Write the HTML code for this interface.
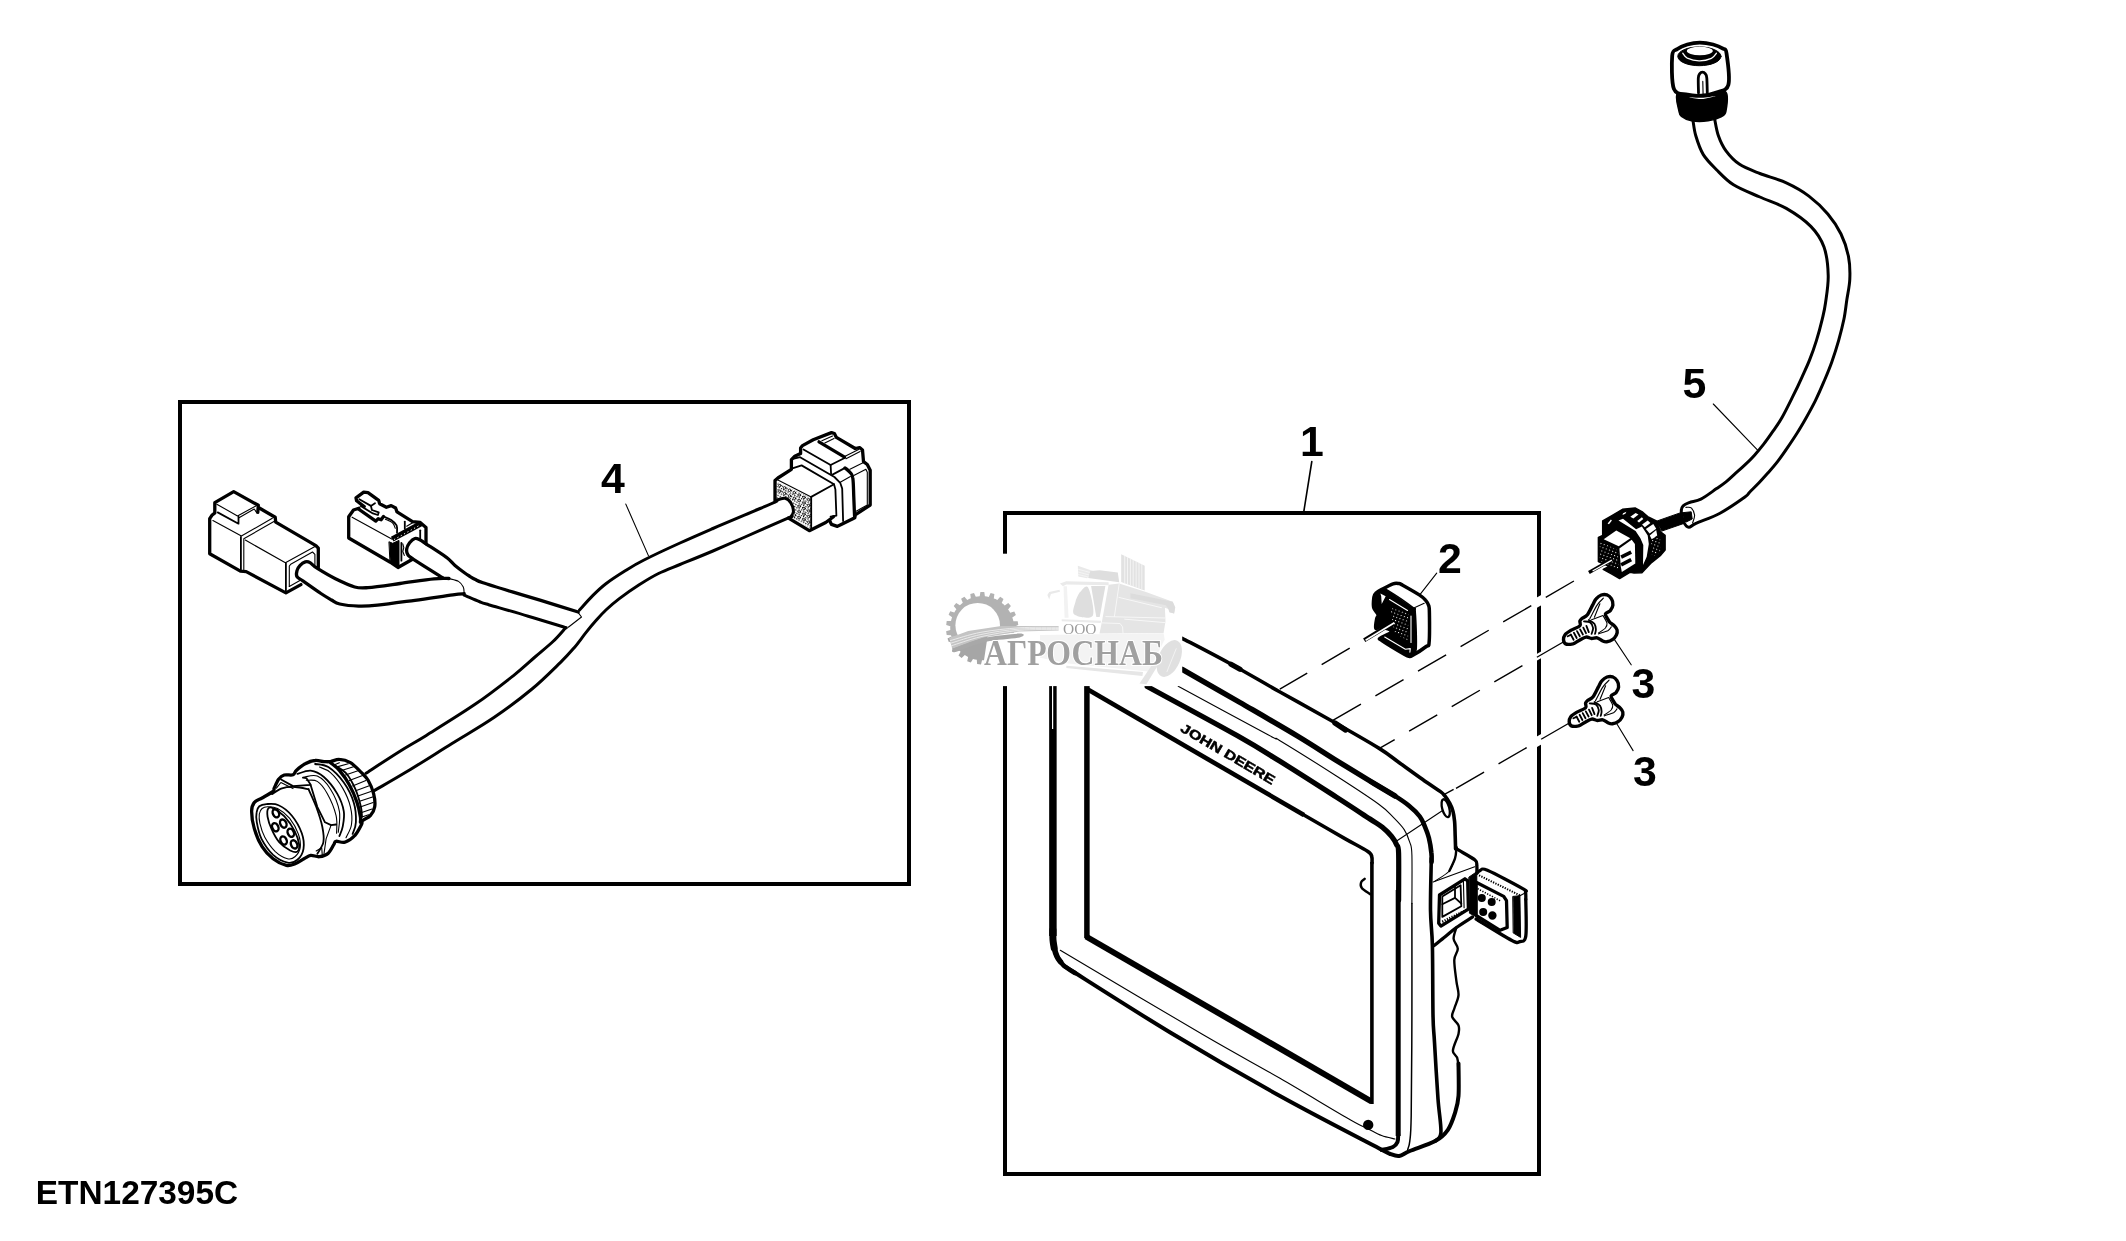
<!DOCTYPE html>
<html><head><meta charset="utf-8">
<style>
html,body{margin:0;padding:0;background:#fff}
body{width:2126px;height:1241px;overflow:hidden;font-family:"Liberation Sans",sans-serif}
svg{display:block}
path,line,ellipse,circle,polyline,rect{fill:none;stroke:#000;vector-effect:non-scaling-stroke;stroke-linecap:round;stroke-linejoin:round;stroke-width:2.4}
.k{stroke-width:3.3}
.m{stroke-width:1.8}
.t{stroke-width:1.1}
.w{fill:#fff}
.b{fill:#000}
.ws{fill:#fff;stroke:none}
text{font-family:"Liberation Sans",sans-serif;font-weight:bold;fill:#000}
</style></head><body>
<svg width="2126" height="1241" viewBox="0 0 2126 1241" style="filter:grayscale(1)">
<rect class="ws" x="0" y="0" width="2126" height="1241"/>
<!-- 10_boxes.svg -->
<rect x="180" y="402" width="729" height="482" style="stroke-width:4;stroke-linejoin:miter"/>
<rect x="1005" y="513" width="534" height="661" style="stroke-width:4;stroke-linejoin:miter"/>

<!-- 20_cables4.svg -->
<!-- main cable, src coords -->
<g style="stroke-width:3">
<path style="stroke-width:3" d="M565.0,628.5 C563.0,630.7 558.0,636.8 553.0,641.5 C548.0,646.2 541.6,651.3 535.0,657.0 C528.4,662.7 523.1,667.9 513.2,675.8 C503.3,683.6 489.9,694.2 475.4,704.1 C460.9,714.0 438.9,727.5 426.3,735.4 C413.7,743.2 410.1,744.9 400.0,751.2 C389.9,757.5 371.7,769.5 366.0,773.2"/>
<path style="stroke-width:3" d="M579.5,610.0 C581.7,607.6 588.3,600.0 592.7,595.6 C597.1,591.2 600.4,587.9 605.9,583.7 C611.4,579.5 619.2,574.5 625.6,570.5 C632.0,566.5 634.9,564.6 644.0,560.0 C653.1,555.4 668.5,548.2 680.0,543.0 C691.5,537.8 702.1,533.2 712.9,528.5 C723.7,523.8 734.7,519.2 745.0,514.8 C755.3,510.4 769.7,504.6 775.0,502.2 C780.2,499.8 774.7,500.9 776.4,500.2 C778.1,499.6 782.7,497.8 785.1,498.3 C787.6,498.8 789.6,500.9 790.9,503.1 C792.3,505.4 793.5,509.4 793.4,511.8 C793.2,514.3 790.8,516.7 790.0,517.7 C789.2,518.6 796.0,514.6 788.5,517.8 C781.0,521.1 757.6,531.5 745.0,537.0 C732.4,542.5 723.7,546.4 712.9,551.0 C702.1,555.6 689.1,560.8 680.0,564.5 C670.9,568.2 665.4,570.1 658.5,573.5 C651.6,576.9 645.4,580.8 638.8,585.0 C632.2,589.2 624.5,594.7 619.0,598.9 C613.5,603.1 609.7,606.4 605.9,610.0 C602.1,613.6 599.3,616.9 596.0,620.6 C592.7,624.3 589.8,627.8 586.1,632.4 C582.4,637.0 578.3,643.0 574.0,648.0 C569.7,653.0 567.3,655.8 560.3,662.6 C553.3,669.4 543.0,679.9 532.0,689.0 C521.0,698.1 507.6,708.2 494.3,717.3 C481.0,726.4 466.5,734.5 452.0,743.5 C437.5,752.5 420.5,763.4 407.4,771.3 C394.3,779.2 379.1,787.8 373.5,791.1"/>
<!-- branch cables -->
<path class="t" d="M449.1,578.6 C450.7,579.1 456.2,580.0 458.5,581.4 C460.9,582.8 462.3,585.0 463.3,587.1 C464.2,589.1 464.0,592.6 464.2,593.7"/>
<path style="stroke-width:3" d="M464.1,595.1 C466.6,596.1 475.1,599.9 479.2,601.5 C483.3,603.1 480.5,602.2 488.6,604.7 C496.8,607.1 515.3,612.3 528.2,616.2 C541.2,620.0 560.0,625.9 566.3,627.8"/>
<path class="t" d="M578.2,612.7 L581.5,617.0 L568.3,627.2"/>
</g>

<!-- 30_connL.svg -->
<!-- left DT connector: zoom G1 origin 195,480 s 10.343 -->
<g>
<path class="k" d="M300.9,584.6 L285.9,592.9 L246.2,571.6 L240.4,571.1 L209.7,553.7 L209.7,518.7 L211.9,515.3 L214.8,512.9 L214.8,502.7 L233.7,491.6 L258.3,505.3 L257.8,512.4"/>
<path class="k" d="M259.3,508.0 L275.2,517.2 L275.7,522.1 L315.9,545.6 L318.3,548.2 L318.3,567.5"/>
<path class="m" d="M238.5,516.7 L238.5,523.7 L217.7,512.4"/>
<path class="t" d="M216.8,504.2 L237.5,516.0 L255.9,505.9"/>
<path class="t" d="M239.0,517.7 L254.2,509.0 L256.9,512.9"/>
<path class="t" d="M212.9,520.6 L241.4,536.1 L272.3,518.2"/>
<path class="t" d="M243.8,569.4 L243.8,538.7 L274.8,521.1"/>
<path class="m" d="M240.9,537.0 L240.9,570.7"/>
<path class="t" d="M245.3,540.1 L285.4,562.7 L315.9,545.9"/>
<path class="m" d="M285.9,563.1 L285.9,592.6"/>
<path class="t" d="M289.3,586.4 L289.3,566.0 L290.7,564.3 L312.5,552.0 L314.9,554.4 L314.9,565.1"/>
<path class="t" d="M289.3,586.4 L299.9,580.6"/>
<path class="k" d="M464.2,593.7 C462.3,593.9 461.1,593.7 452.9,594.8 C444.7,595.9 427.6,598.6 415.0,600.3 C402.4,602.0 386.9,604.2 377.5,605.2 C368.1,606.2 364.9,606.3 358.6,606.1 C352.3,605.9 344.2,605.0 339.7,604.0 C335.2,603.0 334.6,601.8 331.5,600.0 C328.4,598.2 325.7,596.7 320.9,593.5 C316.1,590.3 306.9,583.7 302.9,580.9 C298.9,578.1 298.0,578.4 297.0,576.7 C296.0,575.0 296.5,572.5 297.0,570.6 C297.5,568.7 298.7,566.9 300.1,565.4 C301.5,563.9 303.7,562.4 305.3,561.9 C306.9,561.4 308.1,561.5 310.0,562.6 C311.9,563.7 312.7,565.5 317.0,568.2 C321.3,570.9 329.6,575.9 335.9,579.0 C342.2,582.1 349.3,585.6 354.7,587.0 C360.1,588.4 360.4,588.2 368.0,587.6 C375.6,587.0 389.0,585.0 400.0,583.5 C411.0,582.0 425.8,579.6 434.0,578.8 C442.2,578.0 446.5,578.5 449.0,578.5"/>
</g>

<!-- 31_connM.svg -->
<!-- middle connector: zoom G2 origin 340,480 s 10.343 -->
<g>
<path class="k" d="M426.0,543.8 L426.0,527.4 L420.2,522.5 L412.5,521.6 L397.0,511.9 L395.6,508.0 L391.2,505.6 L386.4,507.3 L379.6,503.7 L378.7,500.3 L368.0,492.6 L363.7,492.1 L356.0,497.9 L356.6,500.8 L364.2,506.6"/>
<path class="k" d="M358.9,508.2 L353.5,510.0 L348.7,516.7 L348.7,538.0 L390.3,562.2 L398.0,567.5 L412.5,559.3"/>
<path class="b" style="stroke-width:1" d="M389.3,541.9 L392.7,543.3 L399.0,540.4 L399.0,565.6 L398.0,567.5 L390.3,562.7Z"/>
<path style="stroke-width:5.5;stroke-linecap:butt" d="M392.2,539.2 L421.2,523.5"/>
<path style="stroke:#fff;stroke-width:1;stroke-dasharray:1.2 2.6;stroke-linecap:butt" d="M394.1,539.5 L420.2,525.0"/>
<path class="t" d="M352.1,517.2 L392.2,539.2"/>
<path class="m" d="M359.3,499.3 L370.9,505.9 L375.0,503.2"/>
<path class="m" d="M370.9,505.9 L371.9,510.0 L378.7,512.4 L377.9,515.0 L372.9,513.4 L360.8,506.1"/>
<path class="k" d="M358.4,509.0 L375.8,521.1 L378.2,518.7 L381.1,519.8 L383.5,516.5"/>
<path class="m" d="M383.5,516.5 C384.8,517.1 389.1,518.6 391.2,520.1 C393.4,521.6 395.6,523.3 396.6,525.4 C397.5,527.5 397.0,531.5 397.0,532.7"/>
<path class="t" d="M385.4,519.2 C386.6,519.8 391.0,521.5 392.7,523.0 C394.3,524.6 394.9,527.5 395.3,528.3"/>
<path class="m" d="M404.8,521.6 L404.8,528.8"/>
<path class="t" d="M406.7,526.2 L413.0,522.5"/>
<path class="m" d="M420.2,530.3 L420.2,539.5"/>
<path class="m" d="M401.4,542.8 L401.4,560.7"/>
<path class="t" d="M402.8,543.8 L403.8,547.7 L402.8,551.5 L404.3,555.4"/>
<path class="k" d="M442.5,577.7 C437.7,574.6 419.3,563.1 413.5,559.3 C407.7,555.4 408.8,556.1 407.7,554.4 C406.6,552.8 406.4,551.1 406.7,549.1 C407.0,547.2 408.2,544.6 409.6,542.8 C411.0,541.1 413.2,539.0 414.9,538.5 C416.7,538.0 418.4,539.1 420.2,539.9 C422.1,540.8 421.7,540.9 426.0,543.8 C430.4,546.7 441.5,553.7 446.4,557.3 C451.2,561.0 452.0,563.0 455.0,565.5 C458.0,568.0 461.6,570.7 464.1,572.5 C466.6,574.3 467.9,575.1 469.8,576.3 C471.7,577.5 473.2,578.5 475.4,579.6 C477.6,580.7 476.7,580.7 483.0,582.8 C489.3,584.9 503.7,589.3 513.2,592.2 C522.7,595.1 529.2,596.9 540.0,600.2 C550.8,603.5 571.8,610.0 578.2,612.0"/>
</g>

<!-- 32_connR.svg -->
<!-- right connector: zoom G3 origin 760,420 s 10.343 -->
<defs>
<pattern id="dots" width="2.5" height="2.5" patternUnits="userSpaceOnUse" patternTransform="rotate(27)"><rect x="0" y="0" width="1.2" height="1.2" style="fill:#000;stroke:none"/></pattern>
<pattern id="dots2" width="2" height="2" patternUnits="userSpaceOnUse"><rect x="0" y="0" width="1" height="1" style="fill:#000;stroke:none"/><rect x="1" y="1" width="1" height="1" style="fill:#000;stroke:none"/></pattern>
</defs>
<g>
<path style="fill:url(#dots);stroke:none" d="M776.4,481.4 L811.2,498.3 L811.2,528.8 L790.5,517.2 L793.4,511.8 L790.9,503.1 L785.1,498.3 L776.4,500.2Z"/>
<!--pins--><circle class="w" style="stroke-width:0.8" cx="779.8" cy="485.6" r="1.25"/><circle class="w" style="stroke-width:0.8" cx="779.8" cy="491.2" r="1.25"/><circle class="w" style="stroke-width:0.8" cx="784.7" cy="487.9" r="1.25"/><circle class="w" style="stroke-width:0.8" cx="784.7" cy="493.5" r="1.25"/><circle class="w" style="stroke-width:0.8" cx="789.5" cy="490.3" r="1.25"/><circle class="w" style="stroke-width:0.8" cx="789.5" cy="495.9" r="1.25"/><circle class="w" style="stroke-width:0.8" cx="794.3" cy="492.7" r="1.25"/><circle class="w" style="stroke-width:0.8" cx="794.3" cy="498.3" r="1.25"/><circle class="w" style="stroke-width:0.8" cx="794.3" cy="515.1" r="1.25"/><circle class="w" style="stroke-width:0.8" cx="799.2" cy="495.0" r="1.25"/><circle class="w" style="stroke-width:0.8" cx="799.2" cy="500.6" r="1.25"/><circle class="w" style="stroke-width:0.8" cx="799.2" cy="506.2" r="1.25"/><circle class="w" style="stroke-width:0.8" cx="799.2" cy="511.8" r="1.25"/><circle class="w" style="stroke-width:0.8" cx="799.2" cy="517.5" r="1.25"/><circle class="w" style="stroke-width:0.8" cx="804.0" cy="497.4" r="1.25"/><circle class="w" style="stroke-width:0.8" cx="804.0" cy="503.0" r="1.25"/><circle class="w" style="stroke-width:0.8" cx="804.0" cy="508.6" r="1.25"/><circle class="w" style="stroke-width:0.8" cx="804.0" cy="514.2" r="1.25"/><circle class="w" style="stroke-width:0.8" cx="804.0" cy="519.8" r="1.25"/><circle class="w" style="stroke-width:0.8" cx="808.8" cy="499.8" r="1.25"/><circle class="w" style="stroke-width:0.8" cx="808.8" cy="505.4" r="1.25"/><circle class="w" style="stroke-width:0.8" cx="808.8" cy="511.0" r="1.25"/><circle class="w" style="stroke-width:0.8" cx="808.8" cy="516.6" r="1.25"/><circle class="w" style="stroke-width:0.8" cx="808.8" cy="522.2" r="1.25"/><!--/pins-->
<path class="k" d="M775.0,500.7 L775.0,480.4 L777.9,478.0 L791.4,469.3 L791.4,459.6 L794.8,456.3 L800.6,453.4 L800.6,448.0 L802.5,445.6 L813.2,439.8 L831.5,432.6 L834.4,433.5 L836.4,437.4 L855.2,448.5 L859.6,447.6 L862.5,450.0 L863.5,461.6 L867.3,464.5 L870.2,470.3 L870.2,505.1 L855.2,514.8 L854.8,517.7 L840.2,524.9 L837.3,526.4 L831.5,524.4 L829.6,520.6"/>
<path class="k" d="M788.5,518.1 L809.3,530.7 L825.7,522.5 L833.5,516.7"/>
<path class="k" d="M819.0,441.8 L844.6,457.2"/>
<path class="t" d="M821.9,440.8 L832.5,436.0"/>
<path class="t" d="M824.8,443.0 L834.0,438.4"/>
<path class="t" d="M845.1,456.3 L858.6,449.5"/>
<path class="t" d="M846.0,458.7 L860.1,451.4"/>
<path class="m" d="M803.5,449.5 L830.6,465.0 L844.1,458.2"/>
<path class="m" d="M830.6,465.0 L831.1,474.1"/>
<path class="m" d="M793.8,458.7 L800.1,457.2 L834.4,477.0 L840.2,482.8 L842.2,488.6 L843.1,521.0"/>
<path class="m" d="M792.4,468.3 L801.6,465.4 L834.0,484.3 L835.4,489.6 L836.4,515.7 L830.6,516.7"/>
<path class="m" d="M834.0,484.3 L811.2,496.9"/>
<path class="t" d="M777.9,479.9 L811.2,496.9"/>
<path class="m" d="M811.2,496.9 L811.2,529.7"/>
<path class="m" d="M832.5,474.6 L845.1,467.9"/>
<path class="k" d="M845.1,467.9 C845.9,468.6 848.6,470.5 849.9,472.2 C851.2,473.9 852.2,473.8 852.8,478.0 C853.5,482.2 853.5,490.9 853.8,497.3 C854.1,503.8 854.4,513.5 854.6,516.7"/>
<path class="t" d="M839.8,482.4 L850.4,476.6"/>
<path class="t" d="M849.9,469.3 L863.5,462.5"/>
<path class="t" d="M853.8,475.6 L865.9,469.3 L867.3,472.2 L867.3,505.1 L855.7,511.4"/>
</g>

<!-- 33_connRound.svg -->
<!-- round connector: zoom G4 origin 240,745 s 9.056 -->
<g>
<path class="k" d="M251.6,811.3 C251.6,806.8 252.6,804.6 254.4,802.4 C256.1,800.2 259.0,799.8 262.1,798.0 C265.2,796.2 271.1,793.0 273.1,791.4 C275.2,789.7 273.3,790.1 274.2,788.1 C275.2,786.0 277.0,781.4 278.6,779.2 C280.3,777.1 281.8,775.8 284.2,775.0 C286.6,774.3 291.0,775.6 293.0,774.8 C295.0,774.0 294.3,772.2 296.3,770.4 C298.3,768.6 302.0,765.4 305.2,763.8 C308.3,762.1 312.0,760.8 315.1,760.5 C318.2,760.1 321.3,761.4 323.9,761.6 C326.5,761.7 328.0,761.9 330.5,761.6 C333.1,761.2 336.1,759.2 339.4,759.4 C342.7,759.5 346.7,760.5 350.4,762.7 C354.1,764.9 358.5,769.7 361.5,772.6 C364.4,775.6 366.1,776.8 368.1,780.3 C370.1,783.8 372.5,789.2 373.6,793.6 C374.7,798.0 375.3,803.2 374.7,806.8 C374.2,810.5 372.3,813.4 370.3,815.7 C368.3,818.0 364.0,819.2 362.6,820.6 C361.1,822.1 362.8,822.0 361.5,824.5 C360.2,827.0 357.6,832.6 354.8,835.5 C352.1,838.5 348.0,841.2 344.9,842.2 C341.8,843.1 337.9,840.9 336.1,841.3 C334.2,841.7 335.1,842.4 333.9,844.4 C332.6,846.4 330.7,851.2 328.3,853.2 C325.9,855.3 322.4,856.4 319.5,856.7 C316.6,857.1 313.2,855.1 310.7,855.4 C308.1,855.8 306.6,857.4 304.0,858.7 C301.5,860.1 298.2,862.6 295.2,863.7 C292.3,864.8 290.1,866.2 286.4,865.4 C282.7,864.5 277.2,861.9 273.1,858.7 C269.1,855.6 265.2,851.6 262.1,846.6 C259.0,841.6 256.1,834.8 254.4,828.9 C252.6,823.0 251.6,815.7 251.6,811.3Z"/>
<path class="m" d="M256.6,812.4 C257.0,809.7 257.7,807.7 259.3,806.3 C261.0,804.9 263.3,804.3 266.5,804.1 C269.7,803.9 274.4,803.2 278.6,805.2 C282.9,807.1 288.0,811.0 291.9,815.7 C295.8,820.4 299.9,827.8 301.8,833.3 C303.8,838.9 304.2,844.4 303.5,848.8 C302.8,853.2 300.1,857.5 297.4,859.8 C294.8,862.1 291.5,863.4 287.5,862.6 C283.4,861.8 277.5,858.8 273.1,854.9 C268.8,850.9 264.3,844.3 261.5,838.9 C258.8,833.4 257.6,826.7 256.8,822.3 C256.0,817.9 256.1,815.0 256.6,812.4Z"/>
<path class="t" d="M259.3,814.0 C259.7,811.5 260.7,809.7 262.1,808.5 C263.5,807.3 265.0,806.8 267.6,806.8 C270.2,806.8 273.9,806.6 277.5,808.5 C281.2,810.4 286.2,814.1 289.7,818.4 C293.2,822.8 296.8,829.6 298.5,834.4 C300.3,839.3 300.7,844.0 300.2,847.7 C299.6,851.4 297.3,854.7 295.2,856.5 C293.1,858.4 290.8,859.6 287.5,858.7 C284.2,857.9 279.1,855.1 275.3,851.6 C271.6,848.0 267.4,841.9 264.8,837.2 C262.3,832.5 260.8,827.3 259.9,823.4 C259.0,819.5 259.0,816.5 259.3,814.0Z"/>
<path class="m" d="M268.2,808.5 C269.1,807.1 270.5,806.9 273.1,808.2 C275.8,809.5 280.6,812.4 284.2,816.2 C287.8,820.1 292.2,826.4 294.7,831.1 C297.1,835.8 298.6,841.0 299.1,844.4 C299.5,847.8 298.9,850.5 297.4,851.6 C295.9,852.6 293.3,852.0 290.2,850.5 C287.2,848.9 282.3,845.8 279.2,842.2 C276.1,838.6 273.4,833.2 271.5,828.9 C269.5,824.7 268.2,820.2 267.6,816.8 C267.1,813.4 267.2,809.9 268.2,808.5Z"/>
<g class="m">
<ellipse transform="translate(275.9,813.2) rotate(-25)" rx="3" ry="4.3"/>
<ellipse transform="translate(283.3,823.6) rotate(-25)" rx="3" ry="4.3"/>
<ellipse transform="translate(275.3,827.3) rotate(-25)" rx="3" ry="4.3"/>
<ellipse transform="translate(290.8,832.8) rotate(-25)" rx="3" ry="4.3"/>
<ellipse transform="translate(283.6,840.5) rotate(-25)" rx="3" ry="4.3"/>
<ellipse transform="translate(294.1,844.4) rotate(-25)" rx="3" ry="4.3"/>
</g>
<path class="m" d="M272.0,794.1 C273.7,793.2 278.1,789.5 282.0,788.3 C285.8,787.1 290.8,786.8 295.2,787.0 C299.6,787.1 306.3,788.8 308.5,789.2"/>
<path class="m" d="M281.1,779.5 L293.0,786.1 L310.7,784.8 L306.3,778.1 L302.9,777.6"/>
<path class="t" d="M276.4,788.1 L280.9,782.5 L293.0,788.6"/>
<path class="m" d="M308.5,789.2 C309.8,792.1 313.9,800.6 316.2,806.8 C318.5,813.1 321.1,820.8 322.3,826.7 C323.5,832.6 324.2,837.7 323.4,842.2 C322.5,846.7 318.3,851.8 317.3,853.8"/>
<path class="m" d="M310.7,785.3 L317.3,806.8 L325.0,822.3 L331.1,825.1 L336.1,824.5"/>
<path class="t" d="M331.1,825.1 L326.1,838.9 L323.9,854.3"/>
<path class="t" d="M316.2,851.0 L321.7,847.7 L322.3,855.4"/>
<path class="m" d="M297.4,773.9 C299.6,773.4 306.3,770.1 310.7,770.6 C315.1,771.1 319.5,773.2 323.9,777.0 C328.3,780.9 333.9,787.9 337.2,793.6 C340.5,799.3 342.9,805.7 343.8,811.3 C344.7,816.8 343.4,822.6 342.7,826.7 C342.0,830.9 339.9,834.5 339.4,836.1"/>
<path class="t" d="M303.5,777.2 C305.8,777.1 312.8,774.2 317.3,776.1 C321.8,778.1 326.9,783.3 330.5,789.2 C334.2,795.0 338.1,804.1 339.4,811.3 C340.7,818.4 338.5,828.7 338.3,832.2"/>
<path class="t" d="M306.3,780.3 C308.1,780.5 313.8,779.2 317.3,781.4 C320.8,783.6 324.1,787.9 327.2,793.6 C330.4,799.3 334.5,809.0 336.1,815.7 C337.6,822.3 336.5,830.4 336.6,833.3"/>
<path class="m" d="M315.1,764.0 C317.3,764.5 323.6,764.0 328.3,767.1 C333.1,770.2 339.6,776.7 343.8,782.5 C348.0,788.4 351.7,795.8 353.7,802.4 C355.8,809.0 356.1,817.1 355.9,822.3 C355.8,827.5 353.2,832.0 352.6,833.9"/>
<path class="t" d="M319.5,767.1 C321.3,768.0 326.7,769.1 330.5,772.6 C334.4,776.1 339.4,782.4 342.7,788.1 C346.0,793.8 349.0,800.8 350.4,806.8 C351.9,812.9 352.3,819.4 351.5,824.5 C350.8,829.7 346.9,835.5 346.0,837.8"/>
<path class="k" d="M330.5,762.7 C332.0,764.0 336.3,766.7 339.4,770.4 C342.5,774.1 346.4,779.4 349.3,784.8 C352.3,790.1 355.2,797.1 357.0,802.4 C358.9,807.8 359.8,813.5 360.4,816.8 C360.9,820.1 360.4,821.4 360.4,822.3"/>
<path class="m" d="M333.9,764.9 C335.9,766.3 342.4,769.1 346.0,773.2 C349.6,777.2 352.9,783.6 355.4,789.2 C357.9,794.8 359.8,802.2 360.9,806.8 C362.0,811.4 361.8,815.1 362.0,816.8"/>
<path class="t" d="M332.8,765.4 L339.4,762.7"/>
<path class="t" d="M336.1,767.1 L348.2,763.8"/>
<path class="t" d="M341.6,770.6 L354.3,766.5"/>
<path class="t" d="M345.5,775.0 L358.7,770.6"/>
<path class="t" d="M349.3,780.6 L362.6,775.4"/>
<path class="t" d="M352.6,785.9 L365.9,780.6"/>
<path class="t" d="M355.7,790.8 L368.6,785.9"/>
<path class="t" d="M357.9,796.0 L370.9,791.4"/>
<path class="t" d="M359.6,801.3 L372.5,796.9"/>
<path class="t" d="M360.9,806.8 L373.1,802.6"/>
<path class="t" d="M361.7,812.4 L372.0,809.0"/>
<path class="t" d="M361.9,817.0 L368.6,814.8"/>
</g>

<!-- 40_monitor.svg -->
<!-- MONITOR (src coords) -->
<g>
<!-- left outer thick -->
<path style="stroke-width:7.5;stroke-linecap:butt" d="M1052.9,686 L1052.9,936"/>
<path style="stroke:#fff;stroke-width:1.2;stroke-linecap:butt" d="M1052.6,686 L1052.6,729"/>
<path style="stroke-width:7" d="M1052.9,930.0 C1052.9,931.7 1052.8,937.0 1053.0,940.0 C1053.2,943.0 1054.0,946.7 1054.2,948.0"/>
<path style="stroke-width:5.6" d="M1053.0,940.0 C1053.2,941.3 1053.5,945.2 1054.2,948.0 C1054.9,950.8 1056.0,954.2 1057.0,956.5 C1058.0,958.8 1059.9,960.9 1060.5,961.8"/>
<path style="stroke-width:4.6" d="M1057.0,956.5 C1057.6,957.4 1059.2,960.2 1060.5,961.8 C1061.8,963.4 1062.1,964.3 1064.5,966.2 C1066.9,968.1 1073.2,971.9 1075.0,973.0"/>
<path style="stroke-width:4" d="M1063.9,965.8 C1081.8,977.0 1135.1,1011.3 1171.1,1033.0 C1207.1,1054.7 1245.4,1076.8 1280.0,1096.0 C1314.6,1115.2 1360.5,1138.6 1378.8,1148.2 C1397.1,1157.8 1386.7,1152.5 1390.1,1153.8 C1393.5,1155.1 1395.9,1156.4 1399.2,1155.9 C1402.5,1155.4 1403.8,1153.5 1409.8,1151.0 C1415.8,1148.5 1428.8,1144.6 1435.2,1141.1 C1441.6,1137.6 1444.6,1134.5 1447.9,1129.8 C1451.2,1125.1 1453.2,1118.5 1455.0,1112.9 C1456.8,1107.3 1457.9,1104.2 1458.5,1096.0 C1459.1,1087.8 1458.5,1068.9 1458.5,1063.5"/>
<!-- screen frame -->
<path style="stroke-width:5.5;stroke-linecap:butt;stroke-linejoin:miter" d="M1086.9,938 L1086.9,686"/>
<path style="stroke-width:6;stroke-linecap:butt" d="M1086,936.5 L1371.5,1101.5"/>
<path style="stroke-width:4.6;stroke-linecap:butt" d="M1086.6,688.7 L1303.9,815"/>
<path style="stroke-width:3.6" d="M1303.9,815.0 C1310.7,818.9 1334.3,832.6 1344.9,838.6 C1355.5,844.6 1363.0,848.3 1367.5,851.3 C1372.0,854.3 1371.0,854.5 1371.7,856.5 C1372.5,858.5 1372.0,861.9 1372.0,863.0"/>
<path style="stroke-width:3.6;stroke-linecap:butt" d="M1371.9,862 L1371.9,1104"/>
<path style="stroke-width:2.4" d="M1364.7,878.8 C1364.1,879.4 1361.6,880.8 1361.1,882.3 C1360.6,883.8 1360.3,886.0 1361.8,888.0 C1363.3,890.0 1368.9,893.2 1370.3,894.3"/>
<!-- line D -->
<path style="stroke-width:5.2" d="M1147.2,686.5 C1162.2,694.7 1215.4,723.3 1237.5,735.8 C1259.6,748.3 1263.5,751.1 1280.0,761.3 C1296.5,771.5 1321.4,787.5 1336.4,797.1 C1351.4,806.7 1362.3,814.0 1370.0,819.0 C1377.7,824.0 1378.8,824.4 1382.4,827.3 C1386.0,830.2 1389.2,833.5 1391.6,836.4 C1394.0,839.3 1395.4,841.9 1396.6,844.7 C1397.8,847.5 1398.3,843.8 1398.6,853.0 C1398.9,862.2 1398.6,892.2 1398.6,900.0"/>
<path style="stroke-width:5;stroke-linecap:butt" d="M1398.2,890 L1398.2,1136"/>
<path style="stroke-width:4" d="M1398.2,1134.0 C1398.1,1135.3 1398.4,1139.8 1397.5,1142.0 C1396.6,1144.2 1395.6,1145.7 1392.9,1147.0 C1390.2,1148.3 1383.5,1149.5 1381.6,1150.0"/>
<!-- line C thin -->
<path class="t" d="M1178.2,686.3 C1193.2,694.4 1251.5,725.9 1268.5,735.0 C1285.5,744.1 1268.7,733.9 1280.0,740.7 C1291.3,747.5 1319.9,765.4 1336.4,776.0 C1352.9,786.6 1369.4,797.4 1378.8,804.2 C1388.2,811.0 1388.7,812.7 1392.9,816.9 C1397.1,821.1 1401.4,825.4 1404.2,829.6 C1407.0,833.8 1408.5,838.1 1409.8,842.3 C1411.1,846.5 1411.6,844.8 1411.9,855.0 C1412.2,865.2 1411.9,895.4 1411.9,903.5"/>
<path style="stroke-width:1.5" d="M1411.9,903.5 C1411.9,922.1 1412.0,979.6 1411.9,1015.0 C1411.8,1050.4 1411.6,1094.7 1411.2,1115.7 C1410.8,1136.7 1410.4,1135.4 1409.8,1141.1 C1409.2,1146.8 1408.0,1148.2 1407.7,1149.6"/>
<!-- line B -->
<path style="stroke-width:5.4" d="M1182.2,669.4 C1191.8,674.9 1220.7,691.3 1240.0,702.5 C1259.3,713.7 1282.1,726.8 1298.2,736.5 C1314.3,746.2 1324.4,753.1 1336.4,760.5 C1348.4,767.9 1360.2,775.1 1370.0,781.0 C1379.8,786.9 1390.8,793.4 1394.9,795.9"/>
<path style="stroke-width:4.6" d="M1370.0,781.0 C1374.2,783.5 1388.4,791.8 1394.9,795.9 C1401.4,800.0 1404.8,802.3 1409.0,805.7 C1413.2,809.1 1417.2,813.0 1419.8,816.5 C1422.4,820.0 1423.3,822.8 1424.8,826.4 C1426.3,830.0 1427.8,833.6 1428.9,838.0 C1430.0,842.4 1431.0,849.0 1431.4,853.0 C1431.9,857.0 1431.6,860.5 1431.6,862.0"/>
<path style="stroke-width:3.6" d="M1431.3,858.0 C1431.2,866.8 1430.3,896.0 1430.5,910.6 C1430.7,925.2 1432.0,928.4 1432.4,945.8 C1432.8,963.2 1432.7,998.9 1433.0,1015.0 C1433.3,1031.1 1433.7,1028.3 1434.5,1042.3 C1435.3,1056.3 1436.9,1083.8 1438.0,1098.8 C1439.1,1113.8 1441.4,1125.5 1440.9,1132.6 C1440.4,1139.6 1436.2,1139.7 1435.2,1141.1"/>
<!-- line A -->
<path style="stroke-width:3.6" d="M1182.2,638.3 C1190.0,642.4 1212.7,654.0 1229.0,663.0 C1245.3,672.0 1262.9,682.4 1280.0,692.0 C1297.1,701.6 1315.0,711.4 1331.5,720.7 C1348.0,730.1 1367.4,741.0 1378.8,748.1 C1390.2,755.2 1391.8,757.3 1400.0,763.2 C1408.2,769.1 1421.3,778.6 1428.1,783.3 C1434.8,788.0 1437.7,789.5 1440.5,791.6 C1443.3,793.7 1443.2,793.8 1444.7,795.7 C1446.2,797.6 1448.3,800.6 1449.7,803.2 C1451.1,805.8 1452.2,808.5 1453.0,811.5 C1453.8,814.5 1454.2,817.4 1454.6,821.5 C1455.0,825.6 1455.0,831.8 1455.2,836.4 C1455.4,841.0 1455.5,846.9 1455.6,849.0"/>
<path style="stroke-width:5.2" d="M1231,664.2 L1240,669.3"/>
<path style="stroke-width:5.4" d="M1335,723 L1345.5,730"/>
<!-- corner hole + thin lines -->
<ellipse style="stroke-width:2.3" transform="translate(1445.7,808.2) rotate(-15)" rx="3.5" ry="9.2"/>
<path class="t" d="M1397.4,840.5 L1442.2,810.7"/>
<!-- thin bottom bezel line -->
<path class="t" d="M1060.3,950.3 C1084.2,964.4 1167.0,1013.7 1203.6,1035.0 C1240.2,1056.3 1255.5,1064.1 1280.0,1078.3 C1304.5,1092.5 1336.0,1111.7 1350.6,1120.0 C1365.2,1128.3 1362.3,1125.8 1367.5,1128.4 C1372.7,1131.0 1377.0,1133.7 1381.6,1135.5 C1386.2,1137.3 1392.8,1138.4 1395.0,1139.0"/>
<circle class="b" cx="1368.2" cy="1124.9" r="4"/>
<!-- grip -->
<path style="stroke-width:2.4" d="M1456.4,927.5 C1455.9,929.4 1453.4,935.3 1453.6,938.8 C1453.8,942.3 1457.7,945.2 1457.8,948.7 C1457.9,952.2 1454.5,954.6 1454.3,960.0 C1454.1,965.4 1455.7,975.2 1456.4,981.1 C1457.1,987.0 1458.8,990.7 1458.5,995.2 C1458.2,999.7 1455.5,1004.4 1454.5,1008.0 C1453.5,1011.6 1451.5,1014.0 1452.2,1016.9 C1452.9,1019.8 1457.5,1022.6 1458.5,1025.4 C1459.5,1028.2 1459.4,1029.7 1458.5,1033.9 C1457.6,1038.1 1453.0,1046.3 1452.9,1050.8 C1452.8,1055.3 1456.9,1053.2 1457.8,1060.7 C1458.7,1068.2 1458.4,1090.1 1458.5,1096.0"/>
<!-- JOHN DEERE -->
<text transform="translate(1179.5,730.8) rotate(30.4)" font-size="13" textLength="107" style="stroke:#000;stroke-width:0.5" lengthAdjust="spacingAndGlyphs">JOHN DEERE</text>
</g>

<!-- 41_bracket.svg -->
<!-- bracket + plug: zoom M3 origin 1280,840 s 7.0867 -->
<g>
<path class="k" d="M1456.4,847.8 C1456.5,848.0 1454.0,847.2 1457.1,849.2 C1460.1,851.2 1471.4,857.1 1474.7,859.8 C1478.0,862.5 1476.5,863.2 1476.8,865.4 C1477.2,867.6 1476.8,871.9 1476.8,873.2"/>
<path style="stroke-width:2.4" d="M1456.4,848.5 C1456.2,850.1 1456.2,854.6 1455.0,858.3 C1453.8,862.1 1450.3,868.9 1449.3,871.0"/>
<path class="t" d="M1455.0,858.3 C1454.0,860.5 1452.6,867.3 1449.3,871.0 C1446.0,874.8 1437.6,879.3 1435.2,880.9"/>
<path class="t" d="M1433.1,882.1 L1474.7,866.8"/>
<path class="k" d="M1472.6,916.9 C1469.9,918.7 1461.0,924.2 1456.4,927.5 C1451.8,930.8 1448.9,933.6 1445.1,936.7 C1441.3,939.7 1435.7,944.3 1433.8,945.8"/>
<path class="k" d="M1439.5,895.0 L1464.9,878.8 L1467.7,880.9 L1468.4,909.1 L1440.9,926.1 L1438.7,923.3Z"/>
<path class="m" d="M1442.3,896.4 L1460.6,885.2 L1461.3,906.3 L1442.3,916.9Z"/>
<path class="m" d="M1442.3,904.2 L1455.0,897.9 L1455.0,886.6"/>
<path class="m" d="M1455.0,897.9 L1461.3,903.5"/>
<path class="t" d="M1463.4,880.9 L1464.1,907.7"/>
<path style="stroke-width:2.6;stroke-dasharray:1.2 1.4;stroke-linecap:butt" d="M1442.3,921.8 L1467.0,909.8"/>
<path class="b" style="stroke-width:1" d="M1469.1,877.0 L1476.8,871.7 L1476.8,916.9 L1469.8,913.4Z"/>
<path class="k" d="M1476.8,873.2 C1477.4,872.7 1478.6,870.8 1480.4,870.3 C1482.1,869.9 1480.4,867.3 1487.4,870.3 C1494.5,873.4 1516.4,885.0 1522.7,888.7 C1529.1,892.3 1525.0,890.4 1525.5,892.2 C1526.0,894.0 1525.8,898.1 1525.8,899.3"/>
<path class="k" d="M1525.8,899.3 C1525.8,905.4 1526.8,928.9 1525.8,936.0 C1524.8,943.0 1522.3,940.9 1519.9,941.6 C1517.5,942.3 1518.7,944.0 1511.4,940.2 C1504.1,936.4 1482.0,922.5 1476.1,919.0"/>
<path style="stroke-width:2;stroke:#000;stroke-dasharray:1.3 1.3;stroke-linecap:butt" d="M1479.0,875.3 L1520.6,895.7"/>
<path class="k" d="M1476.1,882.3 L1503.7,896.4 L1506.5,900.7 L1507.2,927.5 L1500.1,930.3 L1476.1,915.5Z"/>
<path style="stroke-width:1.6;stroke-dasharray:1.2 1.5;stroke-linecap:butt" d="M1477.6,888.7 L1500.1,900.7"/>
<path style="stroke-width:1.6;stroke-dasharray:1.2 1.5;stroke-linecap:butt" d="M1477.6,921.1 L1498.0,931.7"/>
<circle class="b" cx="1481.8" cy="897.9" r="2.8"/><circle class="b" cx="1491.7" cy="902.1" r="2.8"/><circle class="b" cx="1483.2" cy="912" r="2.8"/><circle class="b" cx="1492.4" cy="915.5" r="3"/>
<path class="b" style="stroke-width:1" d="M1513.1,896.4 L1519.9,895.7 L1520.6,937.4 L1513.5,933.1Z"/>
<path class="t" d="M1519.9,895.7 L1524.1,893.6"/>
</g>

<!-- 42_cap2.svg -->
<!-- cap item 2: zoom C2 origin 1350,580 s 14.43 -->
<defs>
<pattern id="wdots" width="3.4" height="3.4" patternUnits="userSpaceOnUse" patternTransform="rotate(20)"><rect x="0" y="0" width="1" height="1" style="fill:#fff;stroke:none"/></pattern>
</defs>
<g>
<path class="w" style="stroke-width:3.5" d="M1373.9,597.3 C1374.3,594.9 1374.3,594.6 1375.8,593.2 C1377.2,591.8 1379.7,590.6 1382.6,589.0 C1385.4,587.4 1390.3,584.7 1393.0,583.8 C1395.6,582.9 1396.9,583.2 1398.5,583.5 C1400.1,583.7 1399.2,583.3 1402.7,585.2 C1406.1,587.1 1415.5,592.4 1419.3,594.9 C1423.1,597.4 1424.0,598.3 1425.5,600.1 C1427.1,601.9 1428.0,603.6 1428.7,605.6 C1429.3,607.7 1429.3,606.4 1429.4,612.6 C1429.5,618.7 1429.7,636.7 1429.1,642.4 C1428.6,648.0 1429.0,644.3 1426.2,646.5 C1423.4,648.7 1415.3,653.9 1412.4,655.5 C1409.5,657.2 1410.2,656.4 1408.9,656.2 C1407.6,656.1 1409.1,657.0 1404.7,654.5 C1400.4,652.0 1386.6,643.7 1382.6,641.0 C1378.5,638.2 1378.9,639.6 1380.4,638.1 C1381.9,636.5 1391.6,633.5 1391.6,631.6 C1391.6,629.8 1383.1,627.7 1380.5,627.1 C1377.9,626.5 1376.4,629.5 1375.8,628.2 C1375.1,626.8 1376.3,621.1 1376.7,618.8 C1377.1,616.6 1378.6,616.5 1378.1,614.7 C1377.6,612.8 1374.4,610.6 1373.7,607.7 C1373.0,604.8 1373.6,599.8 1373.9,597.3Z"/>
<path class="b" style="stroke-width:1.5" d="M1373.9,597.3 C1374.3,594.9 1374.3,594.6 1375.8,593.2 C1377.2,591.8 1380.6,589.5 1382.6,589.0 C1384.6,588.5 1382.8,587.4 1387.8,590.4 C1392.7,593.4 1407.8,603.5 1412.4,607.2 C1417.0,610.9 1414.6,605.5 1415.3,612.6 C1415.9,619.6 1416.8,642.3 1416.2,649.3 C1415.5,656.3 1412.5,653.7 1411.3,654.8 C1410.1,655.9 1410.0,655.9 1408.9,655.9 C1407.8,655.8 1409.1,657.0 1404.7,654.5 C1400.4,652.0 1386.6,643.7 1382.6,641.0 C1378.5,638.2 1378.9,639.6 1380.4,638.1 C1381.9,636.5 1391.6,633.5 1391.6,631.6 C1391.6,629.8 1383.1,627.7 1380.5,627.1 C1377.9,626.5 1376.4,629.5 1375.8,628.2 C1375.1,626.8 1376.3,621.1 1376.7,618.8 C1377.1,616.6 1378.6,616.5 1378.1,614.7 C1377.6,612.8 1374.4,610.6 1373.7,607.7 C1373.0,604.8 1373.6,599.8 1373.9,597.3Z"/>
<path class="ws" d="M1380.4,593.5 L1385.7,596.3 L1381.7,603.9 L1381.2,596.3Z"/>
<path style="fill:url(#wdots);stroke:none" d="M1390.2,607.7 L1408.2,612.6 L1408.2,641.0 L1394.4,632.7Z"/>
<path class="t" style="stroke:#fff" d="M1389.5,599.5 L1407.5,610.5"/>
<path class="t" style="stroke:#fff" d="M1411.0,616.0 L1411.0,642.4"/>
<path class="t" style="stroke:#fff" d="M1384.7,637.0 L1405.4,649.3 L1410.3,648.6 L1409.9,652.1"/>
<path class="t" d="M1413.8,607.9 L1424.2,603.2"/>
<path style="stroke-width:4.2;stroke:#000;stroke-linecap:butt" d="M1393.0,622.6 L1364.2,640.2"/>
<path style="stroke-width:1.7;stroke:#fff;stroke-linecap:butt" d="M1394.4,622.8 L1365.6,640.3"/>
</g>

<!-- 43_conn5.svg -->
<!-- connector 5: zoom G5 origin 1580,490 s 10.343 -->
<g>
<path class="b" style="stroke-width:1.5" d="M1598.4,537.4 L1602.7,535.4 L1602.7,520.9 L1611.9,515.6 L1622.5,509.3 L1635.1,507.9 L1642.8,512.2 L1647.7,516.6 L1656.4,520.9 L1660.2,531.6 L1665.1,535.4 L1665.1,549.9 L1660.2,555.7 L1650.6,563.5 L1641.9,572.7 L1634.1,573.1 L1630.3,572.2 L1619.6,578.5 L1611.9,574.1 L1603.2,569.3 L1609.0,566.4 L1598.4,561.5Z"/>
<path class="ws" d="M1603.7,539.3 L1616.3,530.4 L1630.3,538.3 L1618.7,546.3Z"/>
<path class="ws" d="M1619.4,548.5 L1631.7,539.8 L1634.9,544.1 L1635.3,563.5 L1621.8,572.0 L1620.8,566.4Z"/>
<path style="stroke-width:3.6;stroke-linecap:butt" d="M1621.1,557.2 L1631.2,552.1"/>
<path style="stroke-width:3.6;stroke-linecap:butt" d="M1621.1,564.9 L1631.2,559.6"/>
<path class="ws" d="M1618.5,520.5 L1623.0,518.7 L1636.1,529.2 L1641.9,526.5 L1647.7,535.4 L1648.8,544.1 L1646.7,556.7 L1643.0,564.9 L1643.3,545.1 L1640.4,538.3 L1635.6,531.1Z"/>
<path class="ws" d="M1630.3,516.8 L1635.6,513.0 L1638.5,514.4 L1633.4,518.5Z"/>
<path class="ws" d="M1637.2,521.1 L1641.9,517.3 L1643.3,519.0 L1639.0,522.5Z"/>
<path class="ws" d="M1642.1,524.5 L1647.7,520.6 L1650.4,522.9 L1644.8,527.2Z"/>
<path class="ws" d="M1645.9,528.9 L1653.3,524.0 L1656.2,528.7 L1649.6,533.5Z"/>
<path class="ws" d="M1649.8,535.4 L1656.2,530.1 L1657.2,535.4 L1651.7,539.3Z"/>
<path class="ws" d="M1623.0,513.2 L1626.4,511.8 L1625.4,513.7 L1622.5,515.1Z"/>
<path class="ws" d="M1607.6,523.4 L1610.9,519.5 L1611.9,520.5 L1609.0,524.3Z"/>
<path style="fill:url(#wdots);stroke:none" d="M1599.8,541.2 L1618.2,550.4 L1618.2,570.7 L1599.8,560.6Z"/>
<path style="fill:url(#wdots);stroke:none" d="M1651.1,536.4 L1660.2,536.4 L1660.2,551.9 L1652.0,556.7Z"/>
<!-- pin -->
<path style="stroke-width:3.4;stroke-linecap:butt" d="M1588.9,572.4 L1611.4,559.8"/>
<path style="stroke-width:1.3;stroke:#fff;stroke-linecap:butt" d="M1592.6,571.0 L1611.9,560.1"/>
<!-- neck -->
<path class="b" style="stroke-width:1" d="M1655.9,521.4 L1681.5,512.4 L1687.3,514.2 L1688.3,521.9 L1661.7,531.1Z"/>
</g>

<!-- 44_cable5.svg -->
<!-- cable 5 src coords (inner edge top->bottom, sheath end, outer edge bottom->top) -->
<g>
<path class="w" style="stroke-width:3" d="M1693.0,120.7 C1693.5,123.2 1694.1,130.2 1695.8,135.8 C1697.5,141.5 1699.8,148.9 1703.3,154.6 C1706.8,160.2 1711.5,164.7 1716.5,169.7 C1721.5,174.7 1726.3,180.2 1733.5,184.8 C1740.7,189.4 1751.1,193.1 1759.9,197.0 C1768.7,200.9 1777.8,203.5 1786.3,208.4 C1794.8,213.3 1804.5,220.0 1810.8,226.4 C1817.1,232.8 1821.1,238.9 1824.0,247.1 C1826.9,255.3 1828.0,266.1 1828.2,275.4 C1828.5,284.7 1826.5,295.7 1825.5,303.0 C1824.5,310.3 1823.7,313.0 1822.2,319.3 C1820.7,325.6 1818.5,333.8 1816.4,340.6 C1814.3,347.4 1812.0,353.8 1809.6,359.9 C1807.2,366.0 1804.6,371.3 1801.9,377.3 C1799.2,383.3 1796.5,389.1 1793.2,395.7 C1789.9,402.3 1785.6,411.1 1782.3,417.0 C1779.0,422.9 1776.3,426.4 1773.2,430.9 C1770.1,435.4 1766.9,440.0 1763.7,444.1 C1760.5,448.2 1757.4,451.9 1754.3,455.4 C1751.2,458.9 1748.1,461.9 1744.9,464.9 C1741.8,467.9 1738.6,470.6 1735.4,473.4 C1732.2,476.2 1729.1,479.3 1726.0,481.8 C1722.9,484.3 1720.8,485.7 1716.6,488.6 C1712.4,491.5 1705.4,496.9 1700.9,499.2 C1696.3,501.5 1692.2,501.4 1689.3,502.6 C1686.3,503.7 1684.3,504.4 1683.0,506.0 C1681.6,507.5 1681.2,509.0 1681.3,511.8 C1681.5,514.5 1682.7,519.8 1683.9,522.4 C1685.2,525.0 1686.8,527.1 1688.8,527.2 C1690.8,527.4 1690.8,525.7 1696.0,523.4 C1701.2,521.0 1711.9,517.6 1720.0,513.2 C1728.1,508.8 1740.0,500.5 1744.9,497.0 C1749.8,493.5 1747.2,494.6 1749.6,492.2 C1751.9,489.8 1755.9,486.1 1759.0,482.8 C1762.1,479.5 1765.2,476.0 1768.4,472.4 C1771.6,468.8 1774.8,465.2 1777.9,461.1 C1781.1,457.0 1784.2,452.5 1787.3,447.9 C1790.4,443.3 1793.5,438.7 1796.7,433.7 C1799.9,428.7 1803.1,423.2 1806.2,417.7 C1809.3,412.2 1812.4,406.7 1815.4,400.6 C1818.4,394.5 1821.4,387.6 1824.1,381.2 C1826.8,374.8 1829.4,368.7 1831.8,361.9 C1834.2,355.1 1836.6,347.7 1838.6,340.6 C1840.6,333.5 1842.5,326.1 1843.9,319.3 C1845.3,312.5 1845.8,306.7 1846.8,300.0 C1847.8,293.3 1849.5,286.4 1849.8,279.2 C1850.1,272.0 1850.0,264.1 1848.5,256.6 C1847.0,249.1 1844.5,241.1 1841.0,234.0 C1837.5,226.9 1833.1,220.3 1827.8,214.0 C1822.5,207.7 1815.8,201.3 1808.9,196.1 C1802.0,190.9 1794.5,186.7 1786.3,182.9 C1778.1,179.1 1767.8,176.6 1759.9,173.5 C1752.1,170.4 1744.9,167.9 1739.2,164.1 C1733.5,160.3 1729.5,155.6 1726.0,150.9 C1722.5,146.2 1720.3,141.2 1718.4,135.8 C1716.5,130.5 1715.2,121.6 1714.6,118.8"/>
<path class="t" d="M1685.9,507.4 C1686.8,507.5 1689.7,506.6 1691.2,507.9 C1692.6,509.2 1694.3,512.6 1694.6,515.1 C1694.8,517.6 1693.0,521.6 1692.6,522.9"/>
<path class="b" style="stroke-width:1" d="M1682.5,512.7 L1691.2,511.8 L1692.2,519.0 L1686.4,521.9 L1683.9,520.9Z"/>
</g>

<!-- 45_plug5.svg -->
<!-- plug at top of cable 5: zoom G6 origin 1650,20 s 12.05 -->
<g>
<path class="b" style="stroke-width:1.5" d="M1677.8,93.0 C1681.5,90.7 1693.6,97.5 1701.5,97.2 C1709.3,96.9 1721.0,89.0 1725.1,91.4 C1729.2,93.7 1726.7,107.0 1725.9,111.3 C1725.2,115.6 1723.5,115.5 1720.5,117.1 C1717.6,118.7 1712.9,120.2 1708.1,120.8 C1703.3,121.5 1695.9,121.6 1691.5,120.8 C1687.1,120.1 1683.6,117.9 1681.5,116.3 C1679.5,114.7 1679.7,115.2 1679.0,111.3 C1678.4,107.4 1674.1,95.4 1677.8,93.0Z"/>
<path class="w" style="stroke-width:3.8" d="M1672.2,55.7 C1672.8,49.0 1674.9,50.9 1677.4,49.0 C1679.9,47.2 1683.6,45.6 1687.3,44.5 C1691.1,43.4 1695.5,42.6 1699.8,42.6 C1704.1,42.6 1709.2,43.5 1713.1,44.5 C1716.9,45.5 1720.8,47.2 1723.0,48.6 C1725.3,50.1 1725.6,47.2 1726.5,53.2 C1727.4,59.2 1730.1,78.2 1728.4,84.7 C1726.7,91.3 1720.9,90.5 1716.4,92.4 C1711.9,94.2 1706.3,95.3 1701.5,95.7 C1696.6,96.1 1691.9,95.8 1687.3,94.7 C1682.8,93.6 1676.4,95.4 1673.9,88.9 C1671.4,82.4 1671.7,62.3 1672.2,55.7Z"/>
<ellipse class="b" style="stroke-width:1" cx="1699.4" cy="56.3" rx="21.6" ry="9.4"/>
<ellipse class="ws" cx="1699.8" cy="51" rx="13" ry="4.2"/>
<path style="stroke:#fff;stroke-width:1.3" d="M1682.8,53.2 C1683.5,54.0 1684.6,56.9 1687.3,58.2 C1690.0,59.4 1695.0,60.8 1699.0,60.8 C1703.0,60.9 1708.5,59.6 1711.4,58.3 C1714.3,57.1 1715.6,54.1 1716.4,53.2"/>
<path style="stroke-width:2.8" d="M1698.5,93.0 C1698.5,90.5 1698.1,81.3 1698.3,78.1 C1698.5,74.9 1698.9,74.9 1699.6,73.9 C1700.3,72.9 1701.5,72.1 1702.4,72.1 C1703.4,72.1 1704.7,72.9 1705.4,73.9 C1706.2,74.9 1706.5,74.9 1706.8,78.1 C1707.1,81.3 1707.2,90.5 1707.3,93.0"/>
<path class="t" d="M1702.8,81.4 L1703.1,94.7"/>
<path class="ws" d="M1689.0,97.3 C1691.1,97.6 1697.0,99.2 1701.5,99.0 C1705.9,98.8 1715.6,96.1 1715.6,95.9 C1715.6,95.7 1705.9,97.6 1701.5,97.8 C1697.0,98.1 1691.1,97.4 1689.0,97.3"/>
</g>

<!-- 46_screws.svg -->
<!-- wing screws: zoom G7 origin 1550,585 s 14.43 -->
<defs>
<g id="wscrew">
<path class="w" style="stroke-width:3.4" d="M1563.5,639.7 C1563.4,638.2 1563.7,636.5 1564.9,634.9 C1566.1,633.3 1568.3,631.9 1570.8,630.4 C1573.3,628.9 1578.3,627.4 1579.8,625.9 C1581.3,624.3 1579.5,622.3 1579.9,621.0 C1580.3,619.8 1581.0,619.3 1582.2,618.3 C1583.5,617.2 1585.6,617.1 1587.4,614.8 C1589.2,612.5 1591.5,607.1 1593.0,604.4 C1594.4,601.7 1594.7,600.4 1596.1,598.9 C1597.5,597.3 1599.5,595.7 1601.3,595.0 C1603.1,594.4 1605.1,594.2 1606.8,594.8 C1608.5,595.5 1610.5,597.2 1611.5,598.9 C1612.6,600.6 1613.1,603.1 1612.9,605.1 C1612.7,607.1 1611.5,609.1 1610.3,610.6 C1609.0,612.1 1605.9,612.8 1605.4,614.1 C1605.0,615.4 1606.8,617.2 1607.5,618.6 C1608.3,620.0 1608.8,621.2 1609.9,622.4 C1611.1,623.6 1613.3,624.6 1614.4,625.9 C1615.6,627.2 1616.8,628.5 1617.1,630.0 C1617.4,631.5 1617.2,633.3 1616.4,634.9 C1615.6,636.5 1614.0,638.6 1612.4,639.7 C1610.8,640.9 1608.4,641.6 1606.8,641.8 C1605.2,642.0 1604.3,641.7 1602.7,641.0 C1601.1,640.3 1599.0,638.2 1597.1,637.8 C1595.3,637.4 1593.4,638.6 1591.6,638.5 C1589.7,638.4 1588.1,636.8 1586.0,637.1 C1584.0,637.4 1581.3,639.3 1579.1,640.4 C1576.9,641.5 1575.1,643.2 1572.9,643.8 C1570.6,644.3 1567.2,644.6 1565.6,643.9 C1564.0,643.2 1563.6,641.2 1563.5,639.7Z"/>
<path class="t" d="M1589.8,618.6 C1591.1,616.4 1594.9,608.5 1597.1,605.1 C1599.4,601.7 1602.3,599.3 1603.4,598.2"/>
<path class="t" d="M1594.4,617.2 L1599.9,603.7"/>
<path class="t" d="M1591.6,619.7 L1603.0,615.5"/>
<path class="t" d="M1603.4,616.2 C1604.0,617.3 1606.6,621.2 1607.0,623.1 C1607.3,625.1 1606.8,626.3 1605.4,628.0 C1604.0,629.6 1599.7,632.1 1598.5,633.0"/>
<path class="t" d="M1598.5,633.9 C1600.1,633.3 1606.1,631.5 1608.2,630.4 C1610.3,629.2 1610.8,627.5 1611.3,626.9"/>
<path class="m" d="M1584.0,621.4 C1585.0,621.6 1588.7,621.3 1590.2,622.4 C1591.7,623.5 1592.9,626.1 1593.1,628.0 C1593.3,629.9 1591.8,632.9 1591.6,633.9"/>
<path class="m" d="M1588.8,620.0 C1589.7,620.6 1593.2,622.2 1594.4,623.8 C1595.5,625.4 1595.8,627.7 1595.9,629.4 C1596.0,631.0 1595.2,633.1 1595.0,633.9"/>
<path class="m" d="M1570.8,634.5 L1573.6,639.7"/>
<path class="m" d="M1573.9,632.8 L1576.7,638.0"/>
<path class="m" d="M1577.0,631.1 L1579.8,636.3"/>
<path class="m" d="M1580.1,629.4 L1582.9,634.5"/>
<path class="m" d="M1583.3,627.6 L1586.0,633.2"/>
<path class="m" d="M1586.4,625.9 L1588.8,632.1"/>
<path class="m" d="M1567.7,636.3 L1570.8,634.9"/>
</g>
</defs>
<use href="#wscrew"/>
<use href="#wscrew" transform="translate(5.7,82)"/>

<!-- 50_dashed.svg -->
<!-- dashed axis lines -->
<g style="stroke-linecap:butt">
<!-- white halos at box border crossings -->
<path style="stroke:#fff;stroke-width:9;stroke-linecap:butt" d="M1546,597.4 L1533,604.9"/>
<path style="stroke:#fff;stroke-width:6;stroke-linecap:butt" d="M1546,652 L1533,659.5"/>
<path style="stroke:#fff;stroke-width:9;stroke-linecap:butt" d="M1546,736.5 L1533,744"/>
<path style="stroke-width:1.4;stroke-dasharray:32.5 16.7;stroke-linecap:butt" d="M1349.7,648.2 L1279.8,689.1"/>
<path style="stroke-width:1.4;stroke-dasharray:32.5 16.7;stroke-linecap:butt" d="M1573.9,581 L1332,720.9"/>
<path style="stroke-width:1.4;stroke-dasharray:32.5 16.7;stroke-dashoffset:2;stroke-linecap:butt" d="M1563.3,642 L1378.1,749.1"/>
<path style="stroke-width:1.4;stroke-dasharray:32.5 16.7;stroke-linecap:butt" d="M1569.3,723 L1456,788.4"/>
<path style="stroke-width:1.4;stroke-linecap:butt" d="M1453.6,789.4 L1444.4,794.3"/>
</g>

<!-- 60_watermark.svg -->
<!-- watermark: zoom W origin 930,540 s 7.856 -->
<rect class="ws" x="938" y="553.7" width="244.2" height="132.4"/>
<g style="stroke:none">
<!-- combine (light): zoom WC origin 1040,548 s 8.74 -->
<path style="fill:#e2e2e2;stroke:none" d="M1121.2,554.3 L1144.7,565.7 L1144.7,590.6 L1121.2,582.0Z"/>
<path style="stroke:#f6f6f6;stroke-width:0.9" d="M1124.7,556.2 L1124.7,582.9"/>
<path style="stroke:#f6f6f6;stroke-width:0.9" d="M1127.5,557.6 L1127.5,583.9"/>
<path style="stroke:#f6f6f6;stroke-width:0.9" d="M1130.4,559.0 L1130.4,585.0"/>
<path style="stroke:#f6f6f6;stroke-width:0.9" d="M1133.2,560.4 L1133.2,586.0"/>
<path style="stroke:#f6f6f6;stroke-width:0.9" d="M1136.1,561.7 L1136.1,587.0"/>
<path style="stroke:#f6f6f6;stroke-width:0.9" d="M1139.0,563.1 L1139.0,588.0"/>
<path style="stroke:#f6f6f6;stroke-width:0.9" d="M1141.8,564.5 L1141.8,589.2"/>
<path style="fill:#e9e9e9;stroke:none" d="M1077.8,565.7 L1092.9,570.9 L1087.1,578.3 L1078.3,576.6Z"/>
<path style="stroke:#f8f8f8;stroke-width:0.7" d="M1078.3,569.2 L1090.3,572.6"/>
<path style="stroke:#f8f8f8;stroke-width:0.7" d="M1078.3,572.0 L1088.6,574.9"/>
<path style="stroke:#f8f8f8;stroke-width:0.7" d="M1078.3,574.5 L1087.5,576.8"/>
<path style="fill:#dedede;stroke:none" d="M1090.3,571.1 L1099.5,570.3 L1117.8,572.6 L1119.2,582.3 L1088.1,578.0Z"/>
<!-- roof + cab -->
<path style="fill:#eaeaea;stroke:none" d="M1060.0,583.5 L1066.3,581.2 L1108.6,582.3 L1108.6,585.2 L1066.3,584.4 L1062.9,586.3Z"/>
<path style="fill:#e9e9e9;stroke:none" d="M1047.4,594.9 L1049.2,592.1 L1059.5,589.8 L1060.0,591.7 L1050.9,594.0 L1049.2,599.5Z"/>
<path style="fill:#f2f2f2;stroke:none" d="M1063.5,586.3 L1066.9,586.3 L1068.6,617.8 L1064.6,617.8Z"/>
<path style="fill:#dedede;stroke:none" d="M1079.5,592.6 C1080.9,591.8 1085.8,583.7 1088.1,587.5 C1090.3,591.3 1095.1,611.0 1092.9,615.5 C1090.6,620.0 1077.2,616.9 1074.3,614.6 C1071.4,612.3 1074.6,605.4 1075.5,601.8 C1076.3,598.1 1078.8,594.1 1079.5,592.6"/>
<path style="fill:#dedede;stroke:none" d="M1091.1,586.0 L1105.4,586.0 L1099.7,616.9 L1096.3,616.9Z"/>
<path style="fill:#ebebeb;stroke:none" d="M1061.7,619.2 L1101.2,620.7 L1100.6,622.9 L1061.7,621.2Z"/>
<!-- body -->
<path style="fill:#e5e5e5;stroke:none" d="M1108.6,584.8 L1119.2,583.5 L1145.3,591.7 L1172.7,601.8 L1175.2,607.5 L1174.1,613.4 L1169.5,612.3 L1168.4,608.9 L1164.9,607.7 L1165.5,621.2 L1163.6,632.9 L1099.5,633.5 L1102.0,621.2Z"/>
<path style="stroke:#f7f7f7;stroke-width:1" d="M1119.2,583.7 L1114.4,616.6"/>
<path style="stroke:#f7f7f7;stroke-width:1" d="M1118.9,597.4 L1161.5,607.7"/>
<path style="stroke:#f7f7f7;stroke-width:1" d="M1105.8,616.6 L1164.9,618.0"/>
<path style="stroke:#f7f7f7;stroke-width:1" d="M1124.7,619.2 L1164.9,622.6"/>
<path style="stroke:#f7f7f7;stroke-width:1" d="M1101.8,622.9 L1120.1,623.5 L1122.6,626.9 L1123.0,633.2"/>
<path style="fill:#dcdcdc;stroke:none" d="M1130.4,593.2 L1172.7,601.8 L1175.2,607.5 L1174.1,613.4 L1169.5,612.3 L1168.4,608.9 L1165.9,605.2 L1130.4,598.3Z"/>
<!-- lower -->
<path style="fill:#f3f3f3;stroke:none" d="M1040.0,635.0 L1163.6,633.2 L1164.7,639.5 L1148.7,671.6 L1068.6,663.6 L1040.0,657.8Z"/>
<path style="fill:#e6e6e6;stroke:none" d="M1066.3,665.8 L1143.0,672.1 L1142.4,676.1 L1066.3,668.1Z"/>
<path style="fill:#e4e4e4;stroke:none" d="M1139.5,683.6 L1154.4,661.3 L1159.0,663.6 L1146.4,684.2Z"/>
<ellipse style="fill:#e0e0e0;stroke:none" transform="translate(1169.3,658.5) rotate(24)" rx="10.8" ry="19.5"/>
<path style="stroke:#f4f4f4;stroke-width:0.9" d="M1176.2,648.7 L1167.0,671.6"/>
<!-- gear -->
<g transform="translate(982.2,628.2)">
<path style="fill:#b2b2b2;stroke:none" d="M-30.7,8.9 L-31.2,7.0 L-35.5,6.9 L-36.1,3.1 L-31.9,1.8 L-32.0,-0.1 L-31.9,-2.0 L-36.0,-3.3 L-35.5,-7.2 L-31.2,-7.2 L-30.7,-9.1 L-30.1,-11.0 L-33.6,-13.4 L-32.0,-16.9 L-27.9,-15.7 L-26.9,-17.4 L-25.8,-19.0 L-28.5,-22.3 L-26.0,-25.2 L-22.3,-22.9 L-20.9,-24.3 L-19.4,-25.5 L-21.1,-29.4 L-17.8,-31.5 L-14.9,-28.3 L-13.2,-29.2 L-11.4,-29.9 L-11.9,-34.2 L-8.2,-35.3 L-6.4,-31.4 L-4.5,-31.7 L-2.5,-31.9 L-1.8,-36.2 L2.1,-36.1 L2.7,-31.9 L4.7,-31.7 L6.6,-31.3 L8.4,-35.2 L12.2,-34.1 L11.6,-29.8 L13.4,-29.1 L15.1,-28.2 L18.0,-31.4 L21.3,-29.3 L19.5,-25.3 L21.0,-24.1 L22.5,-22.8 L26.1,-25.1 L28.7,-22.1 L25.9,-18.8 L27.0,-17.2 L28.0,-15.5 L32.1,-16.7 L33.7,-13.1 L30.1,-10.8 L30.7,-8.9 L31.2,-7.0 L35.5,-6.9 L36.1,-3.1 L31.9,-1.8 L31.7,4.5 Z"/>
<circle style="fill:#fff;stroke:none" cx="-4.5" cy="-3" r="22.3"/>
<path style="fill:#a6a6a6;stroke:none" d="M6,4 L1.8,32.0 L-0.2,32.0 L-1.2,36.2 L-5.1,35.8 L-5.4,31.5 L-7.3,31.2 L-9.2,30.7 L-11.4,34.4 L-15.0,33.0 L-14.1,28.7 L-15.8,27.8 L-17.4,26.8 L-20.6,29.8 L-23.7,27.4 L-21.6,23.6 L-23.0,22.3 L-24.3,20.8 L-28.1,22.8 L-30.4,19.6 L-27.4,16.6 L-28.3,14.9 L-29.2,13.1 L-33.4,13.9 L-34.7,10.3 L-30.9,8.2 L-31.3,6.7 L-30,14 Z"/>
</g>
<!-- swoosh -->
<path style="fill:#c4c4c4;stroke:none" d="M949.1,638.0 L968.2,631.0 L1001.3,625.9 L1058.6,625.9 L1058.6,630.6 L1019.1,631.6 L983.5,637.4 L952.3,648.8Z"/>
<path style="stroke:#f2f2f2;stroke-width:0.8" d="M950.4,640.6 C955.5,639.2 969.5,634.4 980.9,632.3 C992.4,630.2 1006.2,628.7 1019.1,627.8 C1032.0,627.0 1052.0,627.4 1058.6,627.3"/>
<path style="stroke:#f2f2f2;stroke-width:0.8" d="M951.0,643.1 C956.0,641.7 969.6,636.8 980.9,634.5 C992.3,632.1 1006.2,630.1 1019.1,629.1 C1032.0,628.1 1052.0,628.6 1058.6,628.5"/>
<path style="stroke:#f2f2f2;stroke-width:0.8" d="M951.6,645.7 C956.5,644.2 969.7,639.3 980.9,636.7 C992.2,634.2 1006.2,631.6 1019.1,630.4 C1032.0,629.2 1052.0,629.7 1058.6,629.6"/>
<path style="fill:#a8a8a8;stroke:none" d="M952.3,648.8 C957.5,647.0 972.3,640.6 983.5,638.0 C994.6,635.5 1013.1,633.7 1019.1,633.6 C1025.2,633.5 1025.3,636.0 1019.7,637.4 C1014.2,638.8 996.7,639.4 986.0,641.8 C975.3,644.3 961.1,650.8 955.5,652.0 C949.8,653.2 952.8,649.4 952.3,648.8"/>
<g opacity="0.999">
<text x="1063" y="634.3" font-size="15.5" style="font-family:'Liberation Serif',serif;font-weight:normal;fill:#9c9c9c;stroke:#fff;stroke-width:0.6;paint-order:stroke" textLength="33.5" lengthAdjust="spacingAndGlyphs">ООО</text>
<text x="984" y="665.2" font-size="36" style="font-family:'Liberation Serif',serif;font-weight:bold;fill:#a0a0a0;stroke:#fff;stroke-width:2;paint-order:stroke" textLength="179" lengthAdjust="spacingAndGlyphs">АГРОСНАБ</text>
</g>
</g>

<!-- 90_text.svg -->
<g opacity="0.999">
<text x="35.8" y="1204.2" font-size="33.4">ETN127395C</text>
<text id="l1" x="1300" y="455.8" font-size="42.8">1</text>
<text id="l2" x="1438" y="572.6" font-size="42.8">2</text>
<text id="l3a" x="1631.5" y="698.2" font-size="42.8">3</text>
<text id="l3b" x="1633" y="785.6" font-size="42.8">3</text>
<text id="l4" x="601" y="493" font-size="42.8">4</text>
<text id="l5" x="1682.5" y="398" font-size="42.8">5</text>
</g>
<g>
<path class="m" style="stroke-width:1.6" d="M1311.8,461.5 L1303.9,511"/>
<path class="t" d="M1436.7,573.2 L1420.5,593.9"/>
<path class="t" d="M1614.3,639.4 L1631.2,664.8"/>
<path class="t" d="M1617.1,724.2 L1633.1,750.6"/>
<path class="t" d="M625.8,504.1 L648.4,555.6"/>
<path class="t" d="M1713.3,404 L1757.6,450.2"/>
</g>

</svg>
</body></html>
